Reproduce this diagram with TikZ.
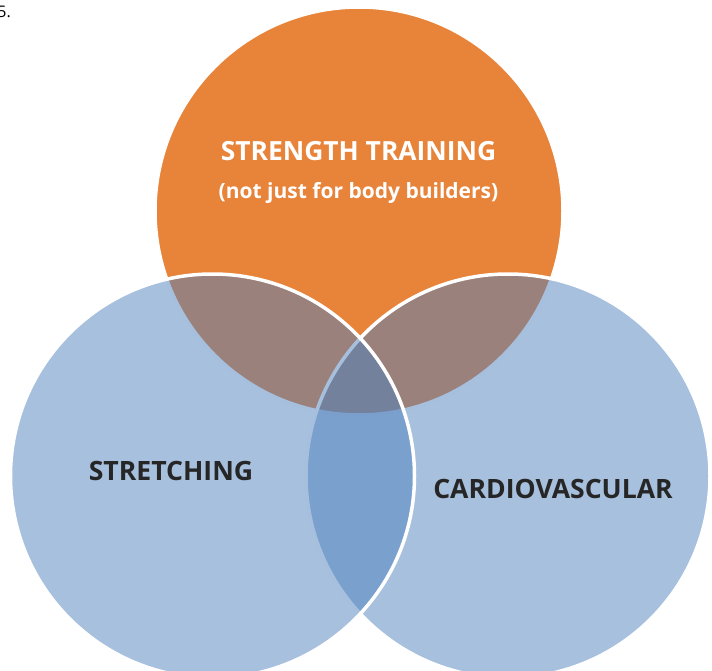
\documentclass[tikz,border=0pt]{standalone}
\usepackage{fontspec}
\setmainfont{Open Sans}
\definecolor{vorange}{HTML}{E8833A}
\definecolor{vblue}{HTML}{4F81BD}
\definecolor{vtext}{HTML}{262626}
\begin{document}
\begin{tikzpicture}[x=1pt,y=-1pt,
  venn/.style={circle, draw=white, line width=3.5pt, inner sep=0pt, outer sep=0pt, minimum size=#1},
  toplabel/.style={font=\bfseries\fontsize{26.4}{30}\selectfont, text=white, inner sep=0pt},
  sublabel/.style={font=\bfseries\fontsize{21}{24}\selectfont, text=white, inner sep=0pt},
  sidelabel/.style={font=\bfseries\fontsize{26.6}{30}\selectfont, text=vtext, inner sep=0pt}]
\useasboundingbox (0,0) rectangle (712,671);
\node[anchor=base east, inner sep=0pt, font=\fontsize{16}{18}\selectfont] (num) at (11,18) {5.};
\node[venn=408pt, fill=vorange] (strength) at (359,211) {};
\node[venn=404pt, fill=vblue, fill opacity=0.5, draw opacity=1] (cardio) at (508,476) {};
\node[venn=404pt, fill=vblue, fill opacity=0.5, draw opacity=1] (stretch) at (212.5,476) {};
\node[toplabel] (t1) at (358.5,151) {STRENGTH TRAINING};
\node[sublabel] (t2) at (358.5,193) {(not just for body builders)};
\node[sidelabel] (t3) at (171,471) {STRETCHING};
\node[sidelabel] (t4) at (553,489) {CARDIOVASCULAR};
\end{tikzpicture}
\end{document}
